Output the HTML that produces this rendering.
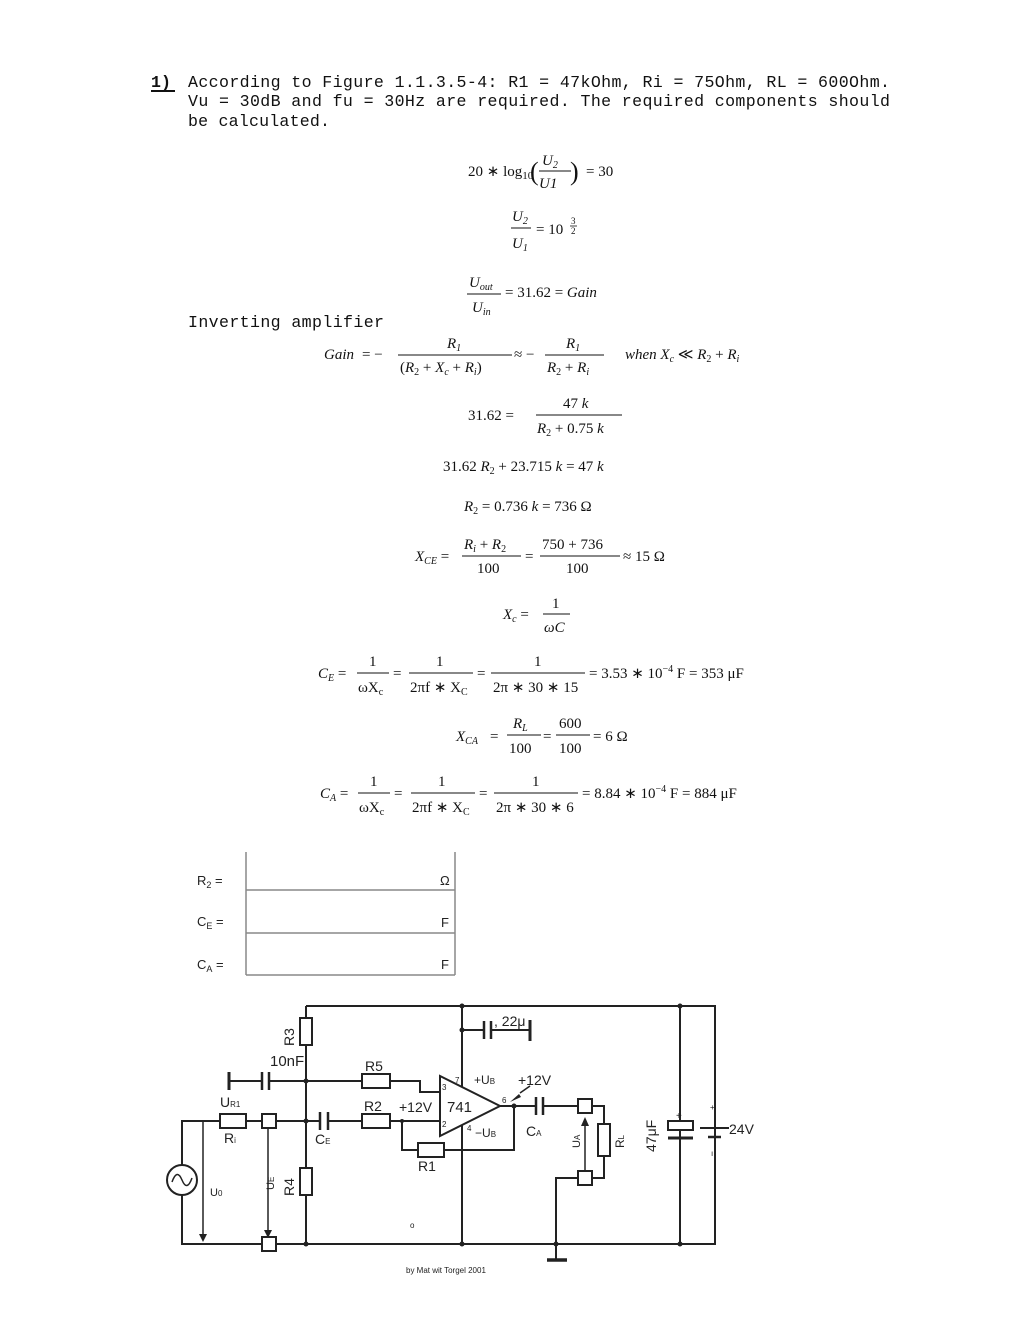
<!DOCTYPE html>
<html><head><meta charset="utf-8"><style>
html,body{margin:0;padding:0;background:#fff;}
svg{display:block;}
.m{font-family:"Liberation Mono",monospace;font-size:16.6px;fill:#111;}
.s{font-family:"Liberation Serif",serif;font-size:15px;fill:#111;}
.i{font-style:italic;}
.c{font-family:"Liberation Sans",sans-serif;fill:#222;}
.w{stroke:#222;stroke-width:2;fill:none;}
.r{stroke:#222;stroke-width:2;fill:#fff;}
</style></head><body>
<svg width="1025" height="1321" viewBox="0 0 1025 1321" xmlns="http://www.w3.org/2000/svg">
<text x="151" y="87" class="m" font-weight="bold">1)</text>
<line x1="151" y1="91" x2="175" y2="91" stroke="#111" stroke-width="2"/>
<text x="188" y="87" class="m" textLength="702" lengthAdjust="spacing">According to Figure 1.1.3.5-4: R1 = 47kOhm, Ri = 75Ohm, RL = 600Ohm.</text>
<text x="188" y="106" class="m" textLength="702" lengthAdjust="spacing">Vu = 30dB and fu = 30Hz are required. The required components should</text>
<text x="188" y="126" class="m" textLength="142" lengthAdjust="spacing">be calculated.</text>

<g class="s">
<text x="468" y="176">20 ∗ log<tspan font-size="11" dy="3">10</tspan></text>
<text x="530" y="180" font-size="26" font-weight="100">(</text>
<text x="542" y="165" class="i">U<tspan font-size="10" dy="3">2</tspan></text>
<line x1="539" y1="171" x2="571" y2="171" stroke="#111"/>
<text x="539" y="188" class="i">U1</text>
<text x="570" y="180" font-size="26">)</text>
<text x="586" y="176">= 30</text>
<text x="512" y="221" class="i">U<tspan font-size="10" dy="3">2</tspan></text>
<line x1="511" y1="228" x2="531" y2="228" stroke="#111"/>
<text x="512" y="248" class="i">U<tspan font-size="10" dy="3">1</tspan></text>
<text x="536" y="234">= 10</text>
<text x="571" y="224" font-size="9">3</text><line x1="570" y1="226" x2="577" y2="226" stroke="#111" stroke-width=".8"/><text x="571" y="234" font-size="9">2</text>
<text x="469" y="287" class="i">U<tspan font-size="10" dy="3">out</tspan></text>
<line x1="467" y1="294" x2="501" y2="294" stroke="#111"/>
<text x="472" y="312" class="i">U<tspan font-size="10" dy="3">in</tspan></text>
<text x="505" y="297">= 31.62 = <tspan class="i">Gain</tspan></text>
</g>
<text x="188" y="327" class="m" textLength="196" lengthAdjust="spacing">Inverting amplifier</text>
<g class="s">
<text x="324" y="359" class="i">Gain</text><text x="362" y="359">= −</text>
<text x="447" y="348" class="i">R<tspan font-size="10" dy="3">1</tspan></text>
<line x1="398" y1="355" x2="512" y2="355" stroke="#111"/>
<text x="400" y="372">(<tspan class="i">R</tspan><tspan font-size="10" dy="3">2</tspan><tspan dy="-3"> + </tspan><tspan class="i">X</tspan><tspan font-size="10" dy="3" class="i">c</tspan><tspan dy="-3"> + </tspan><tspan class="i">R</tspan><tspan font-size="10" dy="3" class="i">i</tspan><tspan dy="-3">)</tspan></text>
<text x="514" y="359">≈ −</text>
<text x="566" y="348" class="i">R<tspan font-size="10" dy="3">1</tspan></text>
<line x1="545" y1="355" x2="604" y2="355" stroke="#111"/>
<text x="547" y="372"><tspan class="i">R</tspan><tspan font-size="10" dy="3">2</tspan><tspan dy="-3"> + </tspan><tspan class="i">R</tspan><tspan font-size="10" dy="3" class="i">i</tspan></text>
<text x="625" y="359" class="i">when X<tspan font-size="10" dy="3">c</tspan><tspan dy="-3" font-style="normal"> ≪ </tspan>R<tspan font-size="10" dy="3" font-style="normal">2</tspan><tspan dy="-3" font-style="normal"> + </tspan>R<tspan font-size="10" dy="3">i</tspan></text>

<text x="468" y="420">31.62 =</text>
<text x="563" y="408">47 <tspan class="i">k</tspan></text>
<line x1="536" y1="415" x2="622" y2="415" stroke="#111"/>
<text x="537" y="433"><tspan class="i">R</tspan><tspan font-size="10" dy="3">2</tspan><tspan dy="-3"> + 0.75 </tspan><tspan class="i">k</tspan></text>

<text x="443" y="471">31.62 <tspan class="i">R</tspan><tspan font-size="10" dy="3">2</tspan><tspan dy="-3"> + 23.715 </tspan><tspan class="i">k</tspan> = 47 <tspan class="i">k</tspan></text>
<text x="464" y="511"><tspan class="i">R</tspan><tspan font-size="10" dy="3">2</tspan><tspan dy="-3"> = 0.736 </tspan><tspan class="i">k</tspan> = 736 Ω</text>

<text x="415" y="561" class="i">X<tspan font-size="10" dy="3">CE</tspan><tspan dy="-3" font-style="normal"> =</tspan></text>
<text x="464" y="549"><tspan class="i">R</tspan><tspan font-size="10" dy="3" class="i">i</tspan><tspan dy="-3"> + </tspan><tspan class="i">R</tspan><tspan font-size="10" dy="3">2</tspan></text>
<line x1="462" y1="556" x2="521" y2="556" stroke="#111"/>
<text x="477" y="573">100</text>
<text x="525" y="561">=</text>
<text x="542" y="549">750 + 736</text>
<line x1="540" y1="556" x2="620" y2="556" stroke="#111"/>
<text x="566" y="573">100</text>
<text x="623" y="561">≈ 15 Ω</text>

<text x="503" y="619" class="i">X<tspan font-size="10" dy="3">c</tspan><tspan dy="-3" font-style="normal"> =</tspan></text>
<text x="552" y="608">1</text>
<line x1="543" y1="614" x2="570" y2="614" stroke="#111"/>
<text x="544" y="632" class="i">ωC</text>

<text x="318" y="678" class="i">C<tspan font-size="10" dy="3">E</tspan><tspan dy="-3" font-style="normal"> =</tspan></text>
<text x="369" y="666">1</text><line x1="357" y1="673" x2="389" y2="673" stroke="#111"/>
<text x="358" y="692">ωX<tspan font-size="10" dy="3">c</tspan></text>
<text x="393" y="678">=</text>
<text x="436" y="666">1</text><line x1="409" y1="673" x2="473" y2="673" stroke="#111"/>
<text x="410" y="692">2πf ∗ X<tspan font-size="10" dy="3">C</tspan></text>
<text x="477" y="678">=</text>
<text x="534" y="666">1</text><line x1="491" y1="673" x2="585" y2="673" stroke="#111"/>
<text x="493" y="692">2π ∗ 30 ∗ 15</text>
<text x="589" y="678">= 3.53 ∗ 10<tspan font-size="10" dy="-6">−4</tspan><tspan dy="6"> F = 353 μF</tspan></text>

<text x="456" y="741" class="i">X<tspan font-size="10" dy="3">CA</tspan></text>
<text x="490" y="741">=</text>
<text x="513" y="728" class="i">R<tspan font-size="10" dy="3">L</tspan></text>
<line x1="507" y1="735" x2="541" y2="735" stroke="#111"/>
<text x="509" y="753">100</text>
<text x="543" y="741">=</text>
<text x="559" y="728">600</text>
<line x1="556" y1="735" x2="590" y2="735" stroke="#111"/>
<text x="559" y="753">100</text>
<text x="593" y="741">= 6 Ω</text>

<text x="320" y="798" class="i">C<tspan font-size="10" dy="3">A</tspan><tspan dy="-3" font-style="normal"> =</tspan></text>
<text x="370" y="786">1</text><line x1="358" y1="793" x2="390" y2="793" stroke="#111"/>
<text x="359" y="812">ωX<tspan font-size="10" dy="3">c</tspan></text>
<text x="394" y="798">=</text>
<text x="438" y="786">1</text><line x1="411" y1="793" x2="475" y2="793" stroke="#111"/>
<text x="412" y="812">2πf ∗ X<tspan font-size="10" dy="3">C</tspan></text>
<text x="479" y="798">=</text>
<text x="532" y="786">1</text><line x1="494" y1="793" x2="578" y2="793" stroke="#111"/>
<text x="496" y="812">2π ∗ 30 ∗ 6</text>
<text x="582" y="798">= 8.84 ∗ 10<tspan font-size="10" dy="-6">−4</tspan><tspan dy="6"> F = 884 μF</tspan></text>
</g>

<g stroke="#888" stroke-width="1.5" fill="none">
<line x1="246" y1="852" x2="246" y2="975"/><line x1="455" y1="852" x2="455" y2="975"/>
<line x1="246" y1="890" x2="455" y2="890"/><line x1="246" y1="933" x2="455" y2="933"/><line x1="246" y1="975" x2="455" y2="975"/>
</g>
<g class="c" font-size="13" fill="#555">
<text x="197" y="885">R<tspan font-size="9" dy="3">2</tspan><tspan dy="-3"> =</tspan></text>
<text x="197" y="926">C<tspan font-size="9" dy="3">E</tspan><tspan dy="-3"> =</tspan></text>
<text x="197" y="969">C<tspan font-size="9" dy="3">A</tspan><tspan dy="-3"> =</tspan></text>
<text x="440" y="885">Ω</text><text x="441" y="927">F</text><text x="441" y="969">F</text>
</g>

<g class="w">
<polyline points="306,1006 715,1006 715,1244 182,1244 182,1121 220,1121"/>
<line x1="306" y1="1006" x2="306" y2="1244"/>
<line x1="462" y1="1006" x2="462" y2="1244"/>
<line x1="680" y1="1006" x2="680" y2="1244"/>
<line x1="246" y1="1121" x2="320" y2="1121"/>
<line x1="328" y1="1121" x2="362" y2="1121"/>
<polyline points="390,1121 440,1121"/>
<polyline points="402,1121 402,1150 418,1150"/>
<polyline points="444,1150 514,1150 514,1106"/>
<polyline points="500,1106 536,1106"/>
<polyline points="543,1106 604,1106 604,1124"/>
<polyline points="604,1156 604,1178 585,1178"/>
<polyline points="578,1178 556,1178 556,1260"/>
<line x1="547" y1="1260" x2="567" y2="1260" stroke-width="3.5"/>
<polyline points="229,1081 262,1081"/><line x1="229" y1="1072" x2="229" y2="1090" stroke-width="3"/>
<polyline points="269,1081 362,1081"/>
<polyline points="390,1081 420,1081 420,1092 440,1092"/>
<line x1="262" y1="1072" x2="262" y2="1090" stroke-width="2.5"/><line x1="269" y1="1072" x2="269" y2="1090" stroke-width="2.5"/>
<line x1="320" y1="1112" x2="320" y2="1130" stroke-width="2.5"/><line x1="328" y1="1112" x2="328" y2="1130" stroke-width="2.5"/>
<line x1="536" y1="1097" x2="536" y2="1115" stroke-width="2.5"/><line x1="543" y1="1097" x2="543" y2="1115" stroke-width="2.5"/>
<polyline points="462,1030 484,1030"/><polyline points="491,1030 530,1030"/>
<line x1="484" y1="1021" x2="484" y2="1039" stroke-width="2.5"/><line x1="491" y1="1021" x2="491" y2="1039" stroke-width="2.5"/>
<line x1="530" y1="1020" x2="530" y2="1041" stroke-width="3"/>
<line x1="700" y1="1128" x2="729" y2="1128"/><line x1="708" y1="1137" x2="721" y2="1137" stroke-width="2.5"/>
<line x1="203" y1="1121" x2="203" y2="1236" stroke-width="1.5"/>
<line x1="268" y1="1128" x2="268" y2="1232" stroke-width="1.5"/>
<line x1="585" y1="1171" x2="585" y2="1124" stroke-width="1.5"/>
</g>
<g fill="#222">
<polygon points="199,1234 207,1234 203,1242"/>
<polygon points="264,1230 272,1230 268,1238"/>
<polygon points="581,1126 589,1126 585,1117"/>
<polygon points="510,1102 519,1094 521,1097"/>
<circle cx="306" cy="1081" r="2.5"/><circle cx="306" cy="1121" r="2.5"/><circle cx="306" cy="1244" r="2.5"/>
<circle cx="462" cy="1006" r="2.5"/><circle cx="462" cy="1030" r="2.5"/><circle cx="462" cy="1244" r="2.5"/>
<circle cx="680" cy="1006" r="2.5"/><circle cx="680" cy="1244" r="2.5"/><circle cx="556" cy="1244" r="2.5"/>
<circle cx="514" cy="1106" r="2.5"/><circle cx="402" cy="1121" r="2"/>
</g>
<line x1="520" y1="1093" x2="530" y2="1086" stroke="#222" stroke-width="1.5"/>
<g class="r">
<rect x="220" y="1114" width="26" height="14"/>
<rect x="262" y="1114" width="14" height="14"/>
<rect x="262" y="1237" width="14" height="14"/>
<rect x="300" y="1018" width="12" height="27"/>
<rect x="300" y="1168" width="12" height="27"/>
<rect x="362" y="1074" width="28" height="14"/>
<rect x="362" y="1114" width="28" height="14"/>
<rect x="418" y="1143" width="26" height="14"/>
<rect x="578" y="1099" width="14" height="14"/>
<rect x="578" y="1171" width="14" height="14"/>
<rect x="598" y="1124" width="12" height="32"/>
<polygon points="440,1076 440,1136 500,1106"/>
<circle cx="182" cy="1180" r="15"/>
<rect x="668" y="1121" width="25" height="9"/>
</g>
<line x1="668" y1="1138" x2="693" y2="1138" stroke="#222" stroke-width="3"/>
<path d="M172,1182 q5,-14 10,-2 t10,-2" stroke="#222" stroke-width="1.5" fill="none"/>
<g class="c" font-size="14">
<text x="270" y="1066" font-size="15">10nF</text>
<text x="365" y="1071">R5</text>
<text x="364" y="1111">R2</text>
<text x="399" y="1112">+12V</text>
<text x="447" y="1112" font-size="15">741</text>
<text x="474" y="1084" font-size="12">+U<tspan font-size="8">B</tspan></text>
<text x="518" y="1085">+12V</text>
<text x="475" y="1137" font-size="12">−U<tspan font-size="8">B</tspan></text>
<text x="526" y="1136">C<tspan font-size="8">A</tspan></text>
<text x="220" y="1107">U<tspan font-size="8">R1</tspan></text>
<text x="224" y="1143">R<tspan font-size="8">i</tspan></text>
<text x="315" y="1144">C<tspan font-size="8">E</tspan></text>
<text x="418" y="1171">R1</text>
<text x="494" y="1026">, 22μ</text>
<text x="729" y="1134">24V</text>
<text x="210" y="1196" font-size="11">U<tspan font-size="8">0</tspan></text>
<text x="467" y="1131" font-size="8">4</text>
<text x="455" y="1083" font-size="8">7</text><text x="442" y="1090" font-size="8">3</text><text x="442" y="1127" font-size="8">2</text><text x="502" y="1103" font-size="8">6</text>
<text x="710" y="1110" font-size="8">+</text><text x="711" y="1156" font-size="8">ı</text>
<text x="676" y="1119" font-size="10">+</text>
<text x="410" y="1228" font-size="8">o</text>
<text x="294" y="1046" transform="rotate(-90 294 1046)">R3</text>
<text x="294" y="1196" transform="rotate(-90 294 1196)">R4</text>
<text x="274" y="1190" font-size="11" transform="rotate(-90 274 1190)">U<tspan font-size="8">E</tspan></text>
<text x="580" y="1148" font-size="11" transform="rotate(-90 580 1148)">U<tspan font-size="8">A</tspan></text>
<text x="624" y="1148" font-size="12" transform="rotate(-90 624 1148)">R<tspan font-size="8">L</tspan></text>
<text x="656" y="1152" transform="rotate(-90 656 1152)">47μF</text>
<text x="406" y="1273" font-size="8">by Mat wit Torgel 2001</text>
</g>
</svg>
</body></html>
